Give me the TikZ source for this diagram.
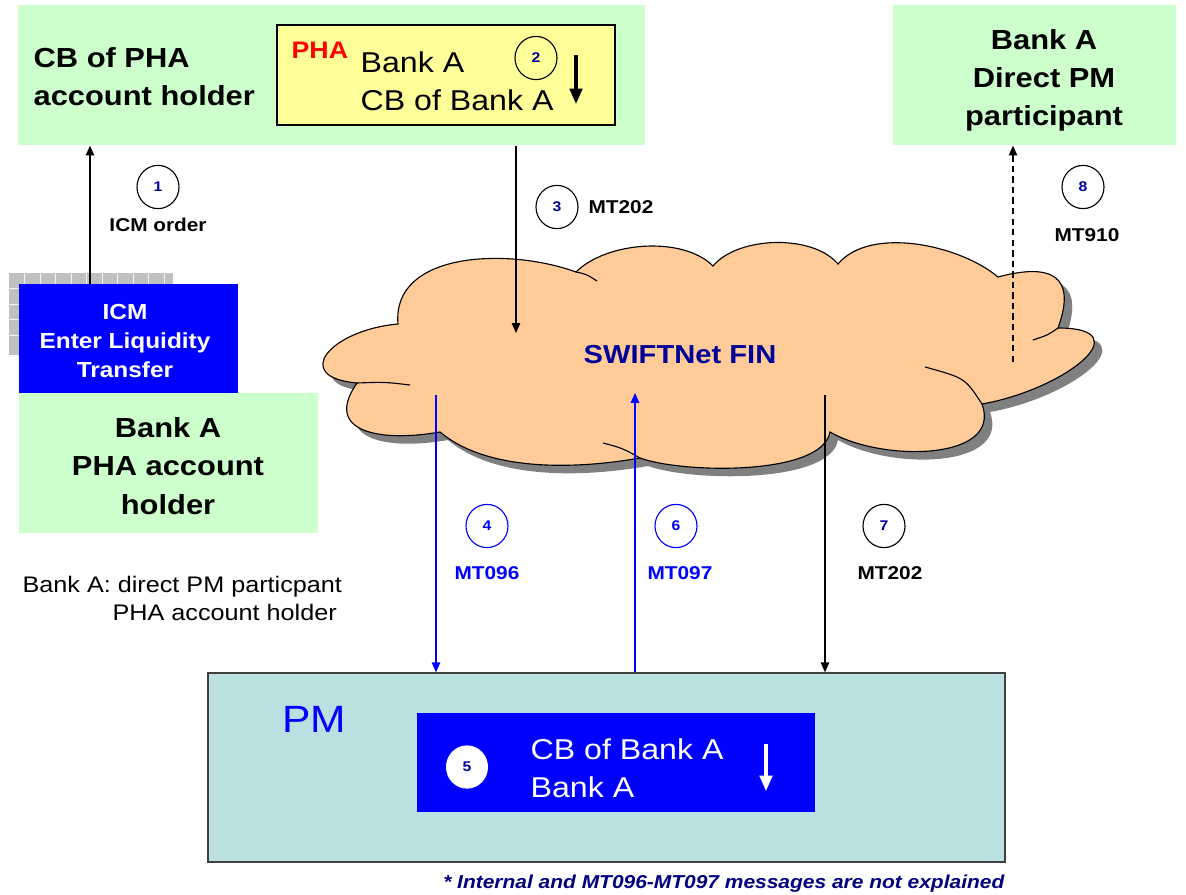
\documentclass[tikz,border=0pt]{standalone}
\usepackage{fontspec}
\setmainfont{Liberation Sans}[FakeStretch=1.12]
\usetikzlibrary{shapes.geometric, arrows.meta}

\definecolor{mintgreen}{HTML}{CCFFCC}
\definecolor{notepad}{HTML}{FFFF99}
\definecolor{cloudfill}{HTML}{FFCC99}
\definecolor{pmfill}{RGB}{186,224,226}
\definecolor{navy}{HTML}{000099}
\definecolor{footnavy}{HTML}{000080}
\definecolor{gridgray}{HTML}{C0C0C0}

\tikzset{
  titlefont/.style={font=\fontsize{19.6}{27.2}\selectfont\bfseries},
  bookfont/.style={font=\fontsize{20.4}{27}\selectfont},
  mintbox/.style={fill=mintgreen},
  stepno/.style={ellipse, draw, line width=0.8pt, minimum width=1.05cm, minimum height=1.08cm,
    text=navy, font=\fontsize{10}{12}\selectfont\bfseries},
  msg/.style={font=\fontsize{13.2}{16}\selectfont\bfseries},
  bigarrow/.style={-{Triangle[length=11pt,width=9pt]}, line width=2.2pt},
}

% cloud outline in pixel units
\newcommand{\cloudoutline}{(398,324) to[out=95,in=160] (576,272)
  to[out=45,in=135,looseness=0.8] (713,266) to[out=50,in=130,looseness=0.8] (838,264)
  to[out=50,in=140,looseness=0.8] (998,277) to[out=15,in=70,looseness=1.8] (1058,328)
  to[out=0,in=10,looseness=2] (982,404) to[out=-70,in=-30] (830,432)
  to[out=-100,in=-20,looseness=0.6] (640,458) to[out=190,in=-40,looseness=0.8] (440,432)
  to[out=190,in=235,looseness=1.6] (357,383) to[out=175,in=185,looseness=2.4] (398,324) -- cycle}

\begin{document}
\begin{tikzpicture}[x=0.025cm, y=-0.025cm, >={Triangle[length=7pt,width=6pt]}, line width=0.9pt,
    every node/.style={inner sep=0pt}]
  \useasboundingbox (0,0) rectangle (1186,895);

  % CB of PHA account holder
  \node[mintbox, minimum width=15.675cm, minimum height=3.5cm] (cbpha) at (331.5,75) {};
  \node[titlefont, align=left, anchor=west] (cbtitle) at (33,77) {CB of PHA\\account holder};
  \node[draw, fill=notepad, line width=0.8pt, minimum width=8.45cm, minimum height=2.5cm] (phabook) at (446,75) {};
  \node[anchor=base west, text=red, font=\fontsize{17}{20}\selectfont\bfseries] (phatag) at (291,58) {PHA};
  \node[bookfont, align=left, anchor=west] (phaorder) at (360,81.5) {Bank A\\CB of Bank A};
  \node[stepno] (s2) at (536,58) {2};
  \draw[bigarrow] (576,55) -- (576,104);

  % Bank A direct PM participant
  \node[mintbox, minimum width=7.075cm, minimum height=3.5cm] (bankdpm) at (1034.5,75) {};
  \node[titlefont, align=center] (dpmtitle) at (1044,80.5) {Bank A\\Direct PM\\participant};

  % ICM screen
  \fill[gridgray] (9,273) rectangle (173,355);
  \foreach \x in {24.5,40,...,165} {
    \draw[white!80!gridgray, line width=0.6pt] (\x,273) -- (\x,355);
  }
  \foreach \y in {288.5,304,...,350} {
    \draw[white!80!gridgray, line width=0.6pt] (9,\y) -- (173,\y);
  }
  \coordinate (icmtop) at (90,284);
  \draw[->] (icmtop) -- (icmtop |- cbpha.south);
  \node[fill=blue, minimum width=5.475cm, minimum height=2.725cm] (icm) at (128.5,338.5) {};
  \node[text=white, align=center, font=\fontsize{15.5}{20.6}\selectfont\bfseries] (icmtext) at (125,341)
    {ICM\\Enter Liquidity\\Transfer};
  \node[stepno] (s1) at (158,187) {1};
  \node[msg] (m1) at (158,225) {ICM order};

  % Bank A PHA account holder
  \node[mintbox, minimum width=7.475cm, minimum height=3.5cm] (bankpha) at (168.5,463) {};
  \node[titlefont, align=center] (phatitle) at (168,466) {Bank A\\PHA account\\holder};
  \node[anchor=base west, font=\fontsize{16}{19}\selectfont] (notea) at (22,592) {Bank A: direct PM particpant};
  \node[anchor=base west, font=\fontsize{16}{19}\selectfont] (noteb) at (112,620) {PHA account holder};

  % SWIFTNet cloud
  \fill[gray, xshift=0.2cm, yshift=-0.2cm] \cloudoutline;
  \draw[fill=cloudfill, line width=0.8pt] \cloudoutline;
  \draw[line width=0.8pt] (576,272) .. controls (586,274) .. (597,281);
  \draw[line width=0.8pt] (1058,328) .. controls (1048,335) .. (1033,340);
  \draw[line width=0.8pt] (925,367) .. controls (965,378) .. (982,404);
  \draw[line width=0.8pt] (640,458) .. controls (622,448) .. (603,443);
  \draw[line width=0.8pt] (357,383) .. controls (385,382) .. (410,385);
  \node[text=navy, font=\fontsize{18.5}{22}\selectfont\bfseries] (swift) at (680,355) {SWIFTNet FIN};

  % PM
  \node[draw=black!75, fill=pmfill, line width=1pt, minimum width=19.925cm, minimum height=4.725cm] (pm) at (606.5,767.5) {};
  \node[anchor=base west, text=blue, font=\fontsize{27}{30}\selectfont] (pmtag) at (282,732) {PM};
  \node[fill=blue, minimum width=9.95cm, minimum height=2.475cm] (pmbook) at (616,762.5) {};
  \node[stepno, draw=none, fill=white] (s5) at (467,767) {5};
  \node[bookfont, text=white, align=left, anchor=west] (pmorder) at (530,768) {CB of Bank A\\Bank A};
  \draw[bigarrow, white] (766,744) -- (766,791);

  % messages
  \coordinate (in3) at (516,333);
  \draw[->] (in3 |- cbpha.south) -- (in3);
  \node[stepno] (s3) at (557,207) {3};
  \node[msg, anchor=west] (m3) at (588,207) {MT202};

  \coordinate (out4) at (436,395);
  \draw[->, blue] (out4) -- (out4 |- pm.north);
  \node[stepno, draw=blue, text=blue] (s4) at (487,526) {4};
  \node[msg, text=blue] (m4) at (487,573) {MT096};

  \coordinate (in6) at (635,393);
  \draw[->, blue] (in6 |- pm.north) -- (in6);
  \node[stepno, draw=blue, text=blue] (s6) at (676,526) {6};
  \node[msg, text=blue] (m6) at (680,573) {MT097};

  \coordinate (out7) at (825,395);
  \draw[->] (out7) -- (out7 |- pm.north);
  \node[stepno] (s7) at (884,526) {7};
  \node[msg] (m7) at (890,573) {MT202};

  \coordinate (out8) at (1013,362);
  \draw[->, dash pattern=on 4.5pt off 3pt] (out8) -- (out8 |- bankdpm.south);
  \node[stepno] (s8) at (1083,187) {8};
  \node[msg] (m8) at (1087,235) {MT910};

  % footnote
  \node[anchor=base east, text=footnavy, font=\fontsize{13.3}{16}\selectfont\bfseries\itshape] (foot) at (1005,888)
    {* Internal and MT096-MT097 messages are not explained};
\end{tikzpicture}
\end{document}
